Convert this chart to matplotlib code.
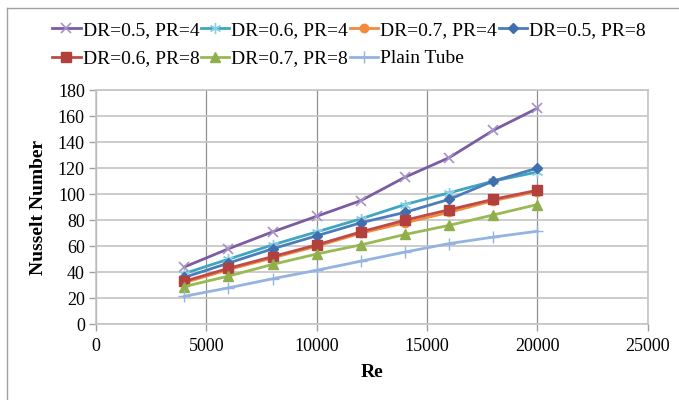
import numpy as np
import matplotlib
matplotlib.use("Agg")
import matplotlib.pyplot as plt
from matplotlib.lines import Line2D

plt.rcParams['font.family'] = ['Liberation Serif', 'DejaVu Serif']

# Reynolds numbers
re = [4000, 6000, 8000, 10000, 12000, 14000, 16000, 18000, 20000]

# Nusselt numbers
nu_dr05_pr4 = [44, 58, 71, 83, 95, 113, 128, 149, 166]
nu_dr06_pr4 = [39, 50, 61, 71, 81, 92, 101, 110, 117]
nu_dr07_pr4 = [32, 42, 51, 60, 70, 78, 86, 95, 102]
nu_dr05_pr8 = [36, 47, 58, 68, 78, 86, 96, 110, 120]
nu_dr06_pr8 = [33, 43, 52, 61, 71, 80, 88, 96, 103]
nu_dr07_pr8 = [29, 37, 46, 54, 61, 69, 76, 84, 92]
nu_plain = [21.5, 28, 35, 41.5, 48.5, 55.5, 62, 67, 71.5]

labels = ["DR=0.5, PR=4", "DR=0.6, PR=4", "DR=0.7, PR=4", "DR=0.5, PR=8",
          "DR=0.6, PR=8", "DR=0.7, PR=8", "Plain Tube"]

fig = plt.figure(figsize=(6.79, 4.0), dpi=100)
ax = fig.add_axes([96/679, 1-324.3/400, (647.7-96)/679, (324.3-90)/400])

h = []
h += ax.plot(re, nu_dr05_pr4, color='#7B5BA4', lw=2, marker='x', ms=7, mew=1.2,
             mec='#A792C8', label=labels[0])
h += ax.plot(re, nu_dr06_pr4, color='#3FA6C0', lw=2, marker=(6, 2, 0), ms=8, mew=1.0,
             mec='#8AD0E2', label=labels[1])
h += ax.plot(re, nu_dr07_pr4, color='#F28A3C', lw=2, marker='o', ms=6,
             mec='#F28A3C', label=labels[2])
h += ax.plot(re, nu_dr05_pr8, color='#4A7DBA', lw=2, marker='D', ms=5.5,
             mec='#3F6FAE', mfc='#3F6FAE', label=labels[3])
h += ax.plot(re, nu_dr06_pr8, color='#BE4B48', lw=2, marker='s', ms=6.5,
             mec='#B2413E', mfc='#B2413E', label=labels[4])
h += ax.plot(re, nu_dr07_pr8, color='#98B954', lw=2, marker='^', ms=7,
             mec='#8FAF4D', mfc='#8FAF4D', label=labels[5])
h += ax.plot(re, nu_plain, color='#94B3DF', lw=2, marker='+', ms=9, mew=1.0,
             label=labels[6])

ax.set_xlim(0, 25000)
ax.set_ylim(0, 180)
ax.set_xticks(np.arange(0, 25001, 5000))
ax.set_yticks(np.arange(0, 181, 20))

ax.yaxis.grid(True, color='#C4C4C4', lw=1.2)
ax.xaxis.grid(True, color='#909090', lw=0.9)
ax.set_axisbelow(True)
for s in ax.spines.values():
    s.set_color('#C4C4C4')
    s.set_linewidth(1.2)
ax.tick_params(axis='both', colors='#A0A0A0', length=5, width=1, labelsize=13,
               labelcolor='black')
ax.tick_params(axis='x', pad=5)
ax.tick_params(axis='y', pad=3)

ax.set_xlabel('Re', fontsize=14, fontweight='bold', labelpad=6)
ax.set_ylabel('Nusselt Number', fontsize=14, fontweight='bold', labelpad=8)

order = [0, 4, 1, 5, 2, 6, 3]
fig.legend([h[i] for i in order], [labels[i] for i in order], ncol=4,
           loc='upper center', bbox_to_anchor=(0.514, 0.985), frameon=False,
           fontsize=14, handlelength=1.45, handletextpad=0.1, columnspacing=0.1,
           labelspacing=0.55, borderpad=0.3)

# outer chart border (top and left edges visible)
fig.add_artist(Line2D([6.5/679, 6.5/679], [0, 1-8/400], color='#A0A0A0', lw=1,
                      transform=fig.transFigure))
fig.add_artist(Line2D([6.5/679, 1], [1-8/400, 1-8/400], color='#A0A0A0', lw=1,
                      transform=fig.transFigure))

fig.savefig('out.png', dpi=100)
